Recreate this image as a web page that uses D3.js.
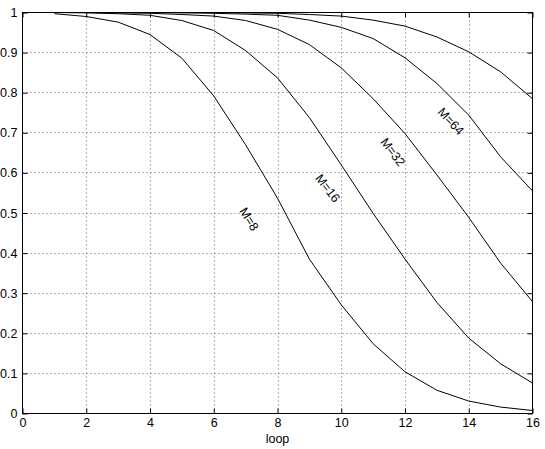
<!DOCTYPE html>
<html>
<head>
<meta charset="utf-8">
<script src="https://cdn.jsdelivr.net/npm/d3@7"></script>
<style>
  html, body { margin: 0; padding: 0; background: #fff; }
  svg { display: block; }
  text { font-family: "Liberation Sans", Arial, Helvetica, sans-serif; }
</style>
</head>
<body>
<svg id="chart" width="545" height="449"></svg>
<script>
// ---- data ----
const loops = [1, 2, 3, 4, 5, 6, 7, 8, 9, 10, 11, 12, 13, 14, 15, 16];
const m8   = [0.997, 0.990, 0.976, 0.945, 0.886, 0.792, 0.670, 0.537, 0.385, 0.271, 0.174, 0.104, 0.058, 0.031, 0.016, 0.0075];
const m16  = [1.000, 0.999, 0.997, 0.993, 0.980, 0.955, 0.905, 0.837, 0.738, 0.620, 0.499, 0.385, 0.277, 0.188, 0.124, 0.076];
const m32  = [1.000, 1.000, 0.999, 0.998, 0.995, 0.991, 0.980, 0.958, 0.920, 0.862, 0.785, 0.698, 0.595, 0.489, 0.375, 0.279];
const m64  = [1.000, 1.000, 1.000, 1.000, 0.999, 0.998, 0.996, 0.993, 0.981, 0.963, 0.935, 0.887, 0.823, 0.744, 0.640, 0.555];
const m128 = [1.000, 1.000, 1.000, 1.000, 1.000, 1.000, 0.999, 0.998, 0.995, 0.991, 0.981, 0.966, 0.939, 0.902, 0.852, 0.785];
const seriesList = [m8, m16, m32, m64, m128];

const xTicks = [0, 2, 4, 6, 8, 10, 12, 14, 16];
const yTicks = [0, 0.1, 0.2, 0.3, 0.4, 0.5, 0.6, 0.7, 0.8, 0.9, 1];
const yTickLabels = ["0", "0.1", "0.2", "0.3", "0.4", "0.5", "0.6", "0.7", "0.8", "0.9", "1"];
const xLabel = "loop";

const labelText  = ["M=8", "M=16", "M=32", "M=64"];
const labelX     = [7.11, 9.58, 11.62, 13.44];
const labelY     = [0.485, 0.562, 0.652, 0.729];
const labelAngle = [58, 53, 53, 47];

// ---- layout ----
const svg = d3.select("#chart");
const L = 22.5, R = 532.5, T = 12.5, B = 413.5;
const x = d3.scaleLinear().domain([0, 16]).range([L, R]);
const y = d3.scaleLinear().domain([0, 1]).range([B, T]);

// grid
const grid = svg.append("g").attr("stroke", "#666").attr("stroke-width", 1)
  .attr("stroke-dasharray", "1,3").attr("fill", "none");
xTicks.slice(1, -1).forEach(v => {
  grid.append("line").attr("x1", Math.round(x(v)) + 0.5).attr("x2", Math.round(x(v)) + 0.5)
    .attr("y1", T).attr("y2", B);
});
yTicks.slice(1, -1).forEach(v => {
  grid.append("line").attr("y1", Math.round(y(v) - 0.5) + 0.5).attr("y2", Math.round(y(v) - 0.5) + 0.5)
    .attr("x1", L).attr("x2", R);
});

// curves
const line = d3.line().x((d, i) => x(loops[i])).y(d => y(d));
svg.append("g").selectAll("path").data(seriesList).join("path")
  .attr("d", d => line(d))
  .attr("fill", "none").attr("stroke", "#000").attr("stroke-width", 1)
  .attr("stroke-linejoin", "round");

// axes
const tickLen = 5;
const axB = svg.append("g").attr("transform", `translate(0,${B})`)
  .call(d3.axisBottom(x).tickValues(xTicks).tickFormat(d3.format("d")).tickSize(-tickLen).tickPadding(5).tickSizeOuter(0));
const axT = svg.append("g").attr("transform", `translate(0,${T})`)
  .call(d3.axisTop(x).tickValues(xTicks).tickFormat("").tickSize(-tickLen).tickSizeOuter(0));
const axL = svg.append("g").attr("transform", `translate(${L},0)`)
  .call(d3.axisLeft(y).tickValues(yTicks).tickFormat((d, i) => yTickLabels[i]).tickSize(-tickLen).tickPadding(5).tickSizeOuter(0));
const axR = svg.append("g").attr("transform", `translate(${R},0)`)
  .call(d3.axisRight(y).tickValues(yTicks).tickFormat("").tickSize(-tickLen).tickSizeOuter(0));

[axB, axT, axL, axR].forEach(a => {
  a.select(".domain").remove();
  a.selectAll("line").attr("stroke", "#000");
  a.selectAll("text").attr("fill", "#000").style("font-size", "12.5px")
    .style("font-family", '"Liberation Sans", Arial, Helvetica, sans-serif');
});

// box
svg.append("rect").attr("x", L).attr("y", T).attr("width", R - L).attr("height", B - T)
  .attr("fill", "none").attr("stroke", "#000").attr("stroke-width", 1);

// x label
svg.append("text").attr("x", (L + R) / 2).attr("y", 443).attr("text-anchor", "middle")
  .style("font-size", "12.5px").text(xLabel);

// curve labels
labelText.forEach((t, i) => {
  const px = x(labelX[i]), py = y(labelY[i]);
  svg.append("text").attr("x", 0).attr("y", 0)
    .attr("transform", `translate(${px},${py}) rotate(${labelAngle[i]})`)
    .attr("text-anchor", "middle").attr("dy", "0.35em")
    .style("font-size", "12.5px").text(t);
});
</script>
</body>
</html>
